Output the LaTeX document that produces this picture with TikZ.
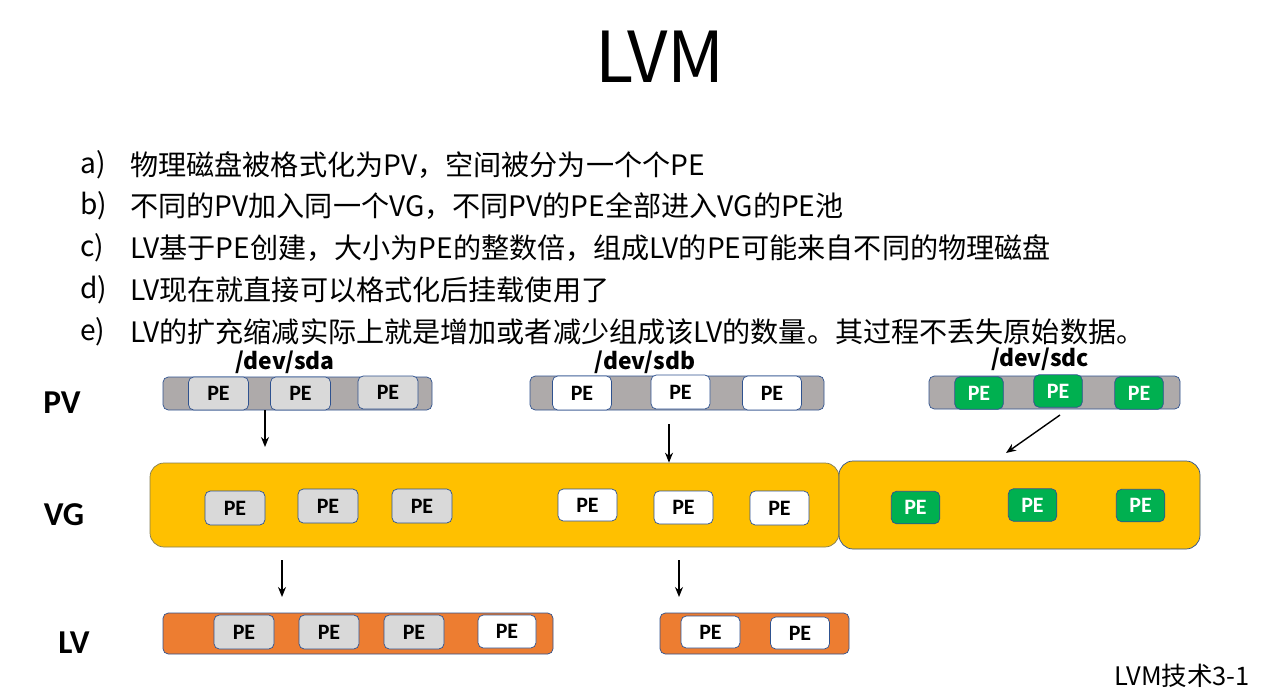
\documentclass[tikz,border=0pt]{standalone}
\usepackage{fontspec}
\setmainfont{Noto Sans CJK SC}
\newfontfamily\calib{Carlito}
\usepackage{tikz}
\usetikzlibrary{positioning, arrows.meta, calc}
\definecolor{pvgray}{HTML}{AEAAAA}
\definecolor{pegray}{HTML}{D9D9D9}
\definecolor{pegreen}{HTML}{00B050}
\definecolor{vgyellow}{HTML}{FFC000}
\definecolor{lvorange}{HTML}{ED7D31}
\definecolor{edgeblue}{HTML}{2F528F}

\begin{document}
\begin{tikzpicture}[
    pebox/.style={draw=edgeblue, rounded corners=3pt, inner sep=0pt, minimum width=1.2cm,
                  minimum height=0.68cm, font=\calib\fontsize{12.5}{14}\selectfont\bfseries},
    grayPE/.style={pebox, fill=pegray},
    whitePE/.style={pebox, fill=white},
    greenPE/.style={pebox, fill=pegreen, text=white, minimum width=0.97cm, minimum height=0.65cm},
    bar/.style={draw=edgeblue, rounded corners=3pt, inner sep=0pt},
    layer/.style={font=\calib\fontsize{19}{22}\selectfont\bfseries},
    disk/.style={font=\fontsize{13}{15}\selectfont\bfseries, inner sep=1pt},
    item/.style={anchor=west, font=\fontsize{16}{19}\selectfont, inner sep=0pt},
    flow/.style={-{Stealth[length=2mm, width=1.6mm]}, line width=0.8pt}
  ]
  \useasboundingbox (0,0) rectangle (25.64,-13.80);

  % title and notes
  \node[font=\fontsize{40}{45}\selectfont] (title) at (13.20,-1.14) {LVM};
  \node[item] (la) at (1.60,-3.30) {a)};
  \node[item] (ta) at (2.60,-3.30) {物理磁盘被格式化为PV，空间被分为一个个PE};
  \node[item] (lb) at (1.60,-4.12) {b)};
  \node[item] (tb) at (2.60,-4.12) {不同的PV加入同一个VG，不同PV的PE全部进入VG的PE池};
  \node[item] (lc) at (1.60,-4.96) {c)};
  \node[item] (tc) at (2.60,-4.96) {LV基于PE创建，大小为PE的整数倍，组成LV的PE可能来自不同的物理磁盘};
  \node[item] (ld) at (1.60,-5.80) {d)};
  \node[item] (td) at (2.60,-5.80) {LV现在就直接可以格式化后挂载使用了};
  \node[item] (le) at (1.60,-6.64) {e)};
  \node[item] (te) at (2.60,-6.64) {LV的扩充缩减实际上就是增加或者减少组成该LV的数量。其过程不丢失原始数据。};

  % layer names
  \node[layer] (pv) at (1.24,-8.06) {PV};
  \node[layer] (vg) at (1.28,-10.30) {VG};
  \node[layer] (lv) at (1.48,-12.86) {LV};

  % physical volumes
  \node[bar, fill=pvgray, minimum width=5.38cm, minimum height=0.66cm] (sda) at (5.95,-7.87) {};
  \node[grayPE, minimum height=0.66cm] (sda1) at (4.37,-7.87) {PE};
  \node[grayPE, minimum height=0.66cm] (sda2) at (6.01,-7.87) {PE};
  \node[grayPE, minimum height=0.66cm] (sda3) at (7.76,-7.85) {PE};
  \node[disk] (sdaname) at (5.70,-7.25) {/dev/sda};

  \node[bar, fill=pvgray, minimum width=5.88cm, minimum height=0.68cm] (sdb) at (13.54,-7.86) {};
  \node[whitePE, minimum width=1.18cm] (sdb1) at (11.64,-7.86) {PE};
  \node[whitePE, minimum width=1.18cm] (sdb2) at (13.61,-7.84) {PE};
  \node[whitePE, minimum width=1.18cm] (sdb3) at (15.44,-7.86) {PE};
  \node[disk] (sdbname) at (12.90,-7.25) {/dev/sdb};

  \node[bar, fill=pvgray, minimum width=5.02cm, minimum height=0.66cm] (sdc) at (21.09,-7.85) {};
  \node[greenPE] (sdc1) at (19.58,-7.86) {PE};
  \node[greenPE] (sdc2) at (21.16,-7.82) {PE};
  \node[greenPE] (sdc3) at (22.78,-7.86) {PE};
  \node[disk] (sdcname) at (20.80,-7.18) {/dev/sdc};

  % volume group
  \node[draw=edgeblue!60!vgyellow, fill=vgyellow, rounded corners=8pt, minimum width=13.78cm,
        minimum height=1.68cm] (vg1) at (9.89,-10.10) {};
  \node[draw=edgeblue, fill=vgyellow, rounded corners=8pt, minimum width=7.22cm,
        minimum height=1.76cm] (vg2) at (20.39,-10.10) {};
  \node[grayPE] (vga1) at (4.70,-10.16) {PE};
  \node[grayPE] (vga2) at (6.56,-10.12) {PE};
  \node[grayPE] (vga3) at (8.44,-10.12) {PE};
  \node[whitePE, minimum width=1.18cm, minimum height=0.64cm] (vgb1) at (11.75,-10.10) {PE};
  \node[whitePE, minimum width=1.18cm, minimum height=0.66cm] (vgb2) at (13.67,-10.15) {PE};
  \node[whitePE, minimum width=1.18cm] (vgb3) at (15.59,-10.16) {PE};
  \node[greenPE] (vgc1) at (18.31,-10.15) {PE};
  \node[greenPE] (vgc2) at (20.65,-10.10) {PE};
  \node[greenPE] (vgc3) at (22.81,-10.11) {PE};

  % logical volumes
  \node[bar, fill=lvorange, minimum width=7.80cm, minimum height=0.82cm] (lv1) at (7.16,-12.67) {};
  \node[grayPE] (lv1a) at (4.88,-12.64) {PE};
  \node[grayPE] (lv1b) at (6.58,-12.64) {PE};
  \node[grayPE] (lv1c) at (8.28,-12.64) {PE};
  \node[whitePE, minimum width=1.16cm, minimum height=0.66cm] (lv1d) at (10.14,-12.63) {PE};
  \node[bar, fill=lvorange, minimum width=3.78cm, minimum height=0.82cm] (lv2) at (15.09,-12.67) {};
  \node[whitePE, minimum width=1.18cm, minimum height=0.64cm] (lv2a) at (14.21,-12.64) {PE};
  \node[whitePE, minimum width=1.18cm, minimum height=0.64cm] (lv2b) at (16.00,-12.66) {PE};

  % arrows
  \coordinate (a1) at (5.30,-8.94);
  \coordinate (a2) at (13.38,-8.48);
  \coordinate (a3) at (21.20,-8.30);
  \coordinate (a3e) at (20.12,-9.06);
  \coordinate (a4) at (5.64,-11.20);
  \coordinate (a4e) at (5.64,-11.94);
  \coordinate (a5) at (13.58,-11.20);
  \coordinate (a5e) at (13.58,-11.94);
  \draw[flow] (sda.south -| a1) -- (a1);
  \draw[flow] (a2) -- (a2 |- vg1.north);
  \draw[flow] (a3) -- (a3e);
  \draw[flow] (a4) -- (a4e);
  \draw[flow] (a5) -- (a5e);

  \node[anchor=east, font=\fontsize{14.5}{17}\selectfont] (page) at (25.12,-13.52) {LVM技术3-1};
\end{tikzpicture}
\end{document}
